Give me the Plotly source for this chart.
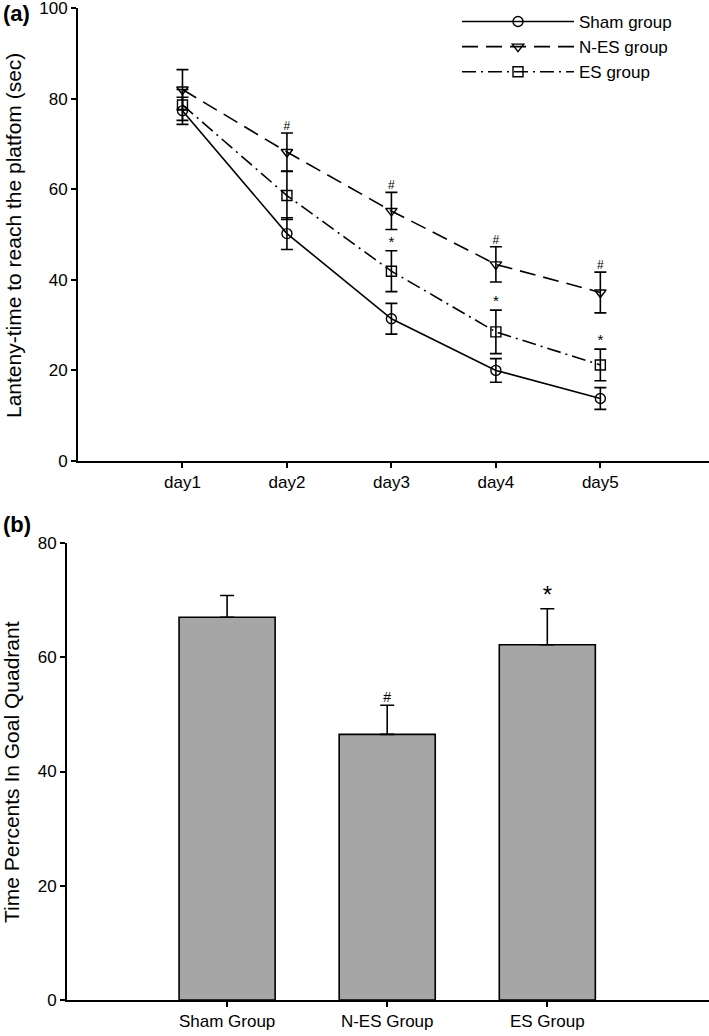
import plotly.graph_objects as go

# panel (a) - latency over training days
days = ["day1", "day2", "day3", "day4", "day5"]
day_pos = [1, 2, 3, 4, 5]
sham_mean = [77.3, 50.2, 31.4, 20.0, 13.8]
sham_err = [3.0, 3.5, 3.4, 2.6, 2.4]
nes_mean = [82.0, 68.2, 55.2, 43.4, 37.2]
nes_err = [4.4, 4.2, 4.1, 3.9, 4.5]
es_mean = [78.6, 58.6, 41.9, 28.5, 21.2]
es_err = [3.4, 5.3, 4.5, 4.8, 3.5]
nes_marks = ["", "#", "#", "#", "#"]
es_marks = ["", "", "*", "*", "*"]

# panel (b) - time in goal quadrant
groups = ["Sham Group", "N-ES Group", "ES Group"]
group_pos = [0, 1, 2]
quad_mean = [67.0, 46.5, 62.2]
quad_err = [3.8, 5.1, 6.3]
quad_marks = ["", "#", "*"]

FONT = "Liberation Sans, Arial, sans-serif"

fig = go.Figure()

series = [
    ("Sham group", sham_mean, sham_err, "circle-open", "solid"),
    ("N-ES group", nes_mean, nes_err, "triangle-down-open", "16px,8px"),
    ("ES group", es_mean, es_err, "square-open", "14px,5px,2px,5px"),
]
for name, mean, err, symbol, dash in series:
    fig.add_trace(go.Scatter(
        x=day_pos, y=mean, name=name, mode="lines+markers",
        line=dict(color="black", width=1.6, dash=dash),
        marker=dict(symbol=symbol, size=10, color="black", line=dict(width=1.4, color="black")),
        error_y=dict(type="data", array=err, color="black", thickness=1.6, width=6),
        xaxis="x", yaxis="y",
    ))

# significance marks above error bars (panel a)
fig.add_trace(go.Scatter(
    x=day_pos, y=[m + e for m, e in zip(nes_mean, nes_err)], text=nes_marks,
    mode="text", textposition="top center", textfont=dict(size=12, color="black", family=FONT),
    showlegend=False, hoverinfo="skip", xaxis="x", yaxis="y",
))
fig.add_trace(go.Scatter(
    x=day_pos, y=[m + e for m, e in zip(es_mean, es_err)], text=es_marks,
    mode="text", textposition="top center", textfont=dict(size=15, color="black", family=FONT),
    showlegend=False, hoverinfo="skip", xaxis="x", yaxis="y",
))

# panel (b) bars
fig.add_trace(go.Bar(
    x=group_pos, y=quad_mean, width=0.6,
    marker=dict(color="#a6a6a6", line=dict(color="black", width=1.6)),
    error_y=dict(type="data", symmetric=False, array=quad_err, arrayminus=[0, 0, 0],
                 color="black", thickness=1.6, width=7),
    showlegend=False, xaxis="x2", yaxis="y2",
))
fig.add_trace(go.Scatter(
    x=group_pos, y=[m + e for m, e in zip(quad_mean, quad_err)], text=quad_marks,
    mode="text", textposition="top center",
    textfont=dict(size=[14, 14, 24], color="black", family=FONT),
    showlegend=False, hoverinfo="skip", xaxis="x2", yaxis="y2",
))

axis_common = dict(showline=True, linecolor="black", linewidth=2, ticks="outside",
                   ticklen=5, tickwidth=1.5, tickcolor="black", showgrid=False,
                   zeroline=False, automargin=False, ticklabeloverflow="allow")

fig.update_layout(
    width=709, height=1036,
    margin=dict(l=0, r=0, t=0, b=0),
    paper_bgcolor="white", plot_bgcolor="white",
    font=dict(family=FONT, color="black"),
    xaxis=dict(domain=[78 / 709, 1.0], range=[0, 6.04], tickvals=day_pos, ticktext=days,
               tickfont=dict(size=17, family=FONT), anchor="y", **axis_common),
    yaxis=dict(domain=[1 - 461 / 1036, 1 - 8 / 1036], range=[0, 100], dtick=20,
               tickfont=dict(size=17, family=FONT), anchor="x", **axis_common),
    xaxis2=dict(domain=[67 / 709, 1.0], range=[-1, 3.01], tickvals=group_pos, ticktext=groups,
                tickfont=dict(size=17, family=FONT), anchor="y2", **axis_common),
    yaxis2=dict(domain=[1 - 1000 / 1036, 1 - 543 / 1036], range=[0, 80], dtick=20,
                tickfont=dict(size=17, family=FONT), anchor="x2", **axis_common),
    legend=dict(x=457 / 709, y=1 - 4 / 1036, xanchor="left", yanchor="top",
                font=dict(size=17, family=FONT), bgcolor="rgba(0,0,0,0)",
                itemwidth=112, tracegroupgap=0),
    showlegend=True,
    annotations=[
        dict(text="Lanteny-time to reach the platfom (sec)", textangle=-90,
             x=13 / 709, y=1 - 236 / 1036, xref="paper", yref="paper",
             xanchor="center", yanchor="middle",
             showarrow=False, font=dict(size=21, family=FONT)),
        dict(text="Time Percents In Goal Quadrant", textangle=-90,
             x=11 / 709, y=1 - 772 / 1036, xref="paper", yref="paper",
             xanchor="center", yanchor="middle",
             showarrow=False, font=dict(size=21, family=FONT)),
        dict(text="<b>(a)</b>", x=1 / 709, y=1 - 14 / 1036, xref="paper", yref="paper",
             xanchor="left", yanchor="middle", showarrow=False, font=dict(size=22, family=FONT)),
        dict(text="<b>(b)</b>", x=1 / 709, y=1 - 524 / 1036, xref="paper", yref="paper",
             xanchor="left", yanchor="middle", showarrow=False, font=dict(size=22, family=FONT)),
    ],
)

fig.write_html("out.html", config={"displayModeBar": False},
               post_script="document.body.style.margin='0';")
